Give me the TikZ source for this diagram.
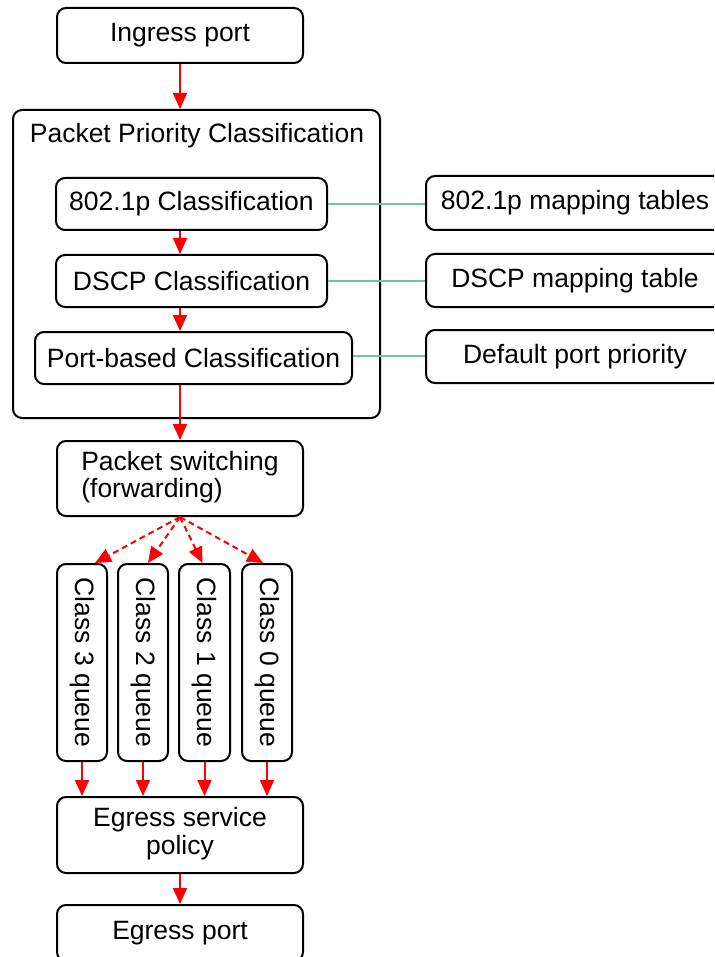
\documentclass[tikz,border=0pt]{standalone}
\usepackage{fontspec}
\setmainfont{Liberation Sans}
\usepackage{graphicx}
\usetikzlibrary{arrows.meta,calc}
\definecolor{arrred}{RGB}{255,0,0}
\definecolor{linkgreen}{RGB}{110,200,150}
\begin{document}
\begin{tikzpicture}[x=1pt,y=-1pt,
  box/.style={draw=black, line width=2pt, rounded corners=9pt, inner sep=0pt,
              font=\fontsize{26.5}{27}\selectfont},
  arr/.style={draw=arrred, line width=2pt, -{Triangle[length=16pt,width=14pt]}},
  darr/.style={arr, dash pattern=on 6pt off 4pt},
  link/.style={draw=linkgreen, line width=2pt},
  txt/.style={font=\fontsize{26.5}{27}\selectfont, inner sep=0pt}]
\useasboundingbox (0,0) rectangle (714,957);
\clip (0,0) rectangle (714,957);
\fill[white] (0,0) rectangle (714,957);

% top
\node[box, minimum width=246, minimum height=55] (ing) at (180,35.5) {Ingress port};

% outer classification box
\node[box, minimum width=367, minimum height=308] (outer) at (196.5,264) {};
\node[txt] (title) at (197,136) {Packet Priority Classification};

\node[box, minimum width=271, minimum height=52] (c1) at (191.5,204) {802.1p Classification};
\node[box, minimum width=271, minimum height=52] (c2) at (191.5,281) {DSCP Classification};
\node[box, minimum width=317, minimum height=52] (c3) at (193.5,358) {Port-based Classification};

% mapping boxes
\node[box, minimum width=298, minimum height=54] (m1) at (575,203) {802.1p mapping tables};
\node[box, minimum width=298, minimum height=53] (m2) at (575,280.5) {DSCP mapping table};
\node[box, minimum width=298, minimum height=53] (m3) at (575,356.5) {Default port priority};

% switching
\node[box, minimum width=246, minimum height=75] (ps) at (180,478.5)
  {\begin{tabular}{@{}l@{}}Packet switching\\(forwarding)\end{tabular}};

% queues
\node[box, minimum width=50, minimum height=197] (q1) at (82,662.5) {\rotatebox{-90}{Class 3 queue}};
\node[box, minimum width=50, minimum height=197] (q2) at (143,662.5) {\rotatebox{-90}{Class 2 queue}};
\node[box, minimum width=51, minimum height=197] (q3) at (204.5,662.5) {\rotatebox{-90}{Class 1 queue}};
\node[box, minimum width=50, minimum height=197] (q4) at (267,662.5) {\rotatebox{-90}{Class 0 queue}};

% egress
\node[box, minimum width=246, minimum height=76] (esp) at (180,835)
  {\begin{tabular}{@{}c@{}}Egress service\\policy\end{tabular}\hspace{18pt}};
\node[box, minimum width=246, minimum height=56] (egp) at (180,933) {Egress port};

% red arrows
\draw[arr] (ing.south) -- (ing.south |- outer.north);
\draw[arr] (c1.south -| ing.south) -- (c2.north -| ing.south);
\draw[arr] (c2.south -| ing.south) -- (c3.north -| ing.south);
\draw[arr] (c3.south -| ps.north) -- (ps.north);
\draw[darr] (ps.south) -- ([xshift=13pt]q1.north);
\draw[darr] (ps.south) -- ([xshift=5pt]q2.north);
\draw[darr] (ps.south) -- ([xshift=-2pt]q3.north);
\draw[darr] (ps.south) -- ([xshift=-4pt]q4.north);
\draw[arr] (q1.south) -- (q1.south |- esp.north);
\draw[arr] (q2.south) -- (q2.south |- esp.north);
\draw[arr] (q3.south) -- (q3.south |- esp.north);
\draw[arr] (q4.south) -- (q4.south |- esp.north);
\draw[arr] (esp.south) -- (egp.north);

% green links
\draw[link] (c1.east) -- (c1.east -| m1.west);
\draw[link] (c2.east) -- (c2.east -| m2.west);
\draw[link] ([yshift=2pt]c3.east) -- ([yshift=2pt]c3.east -| m3.west);
\end{tikzpicture}
\end{document}
